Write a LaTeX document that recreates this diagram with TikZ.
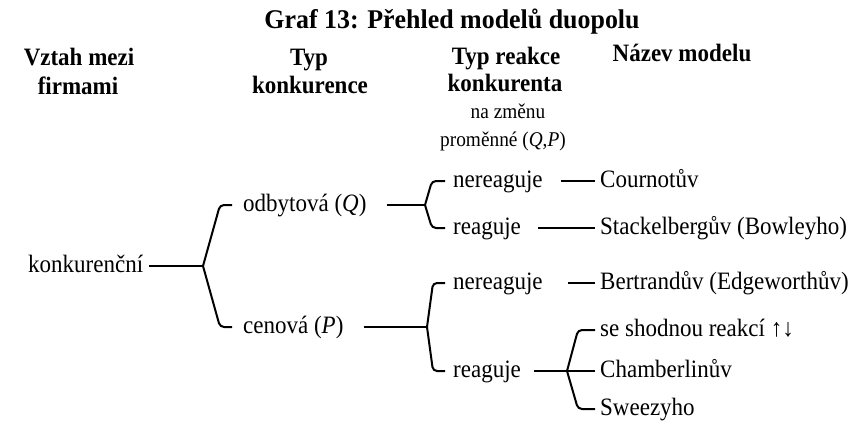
\documentclass[tikz,border=0pt]{standalone}
\usepackage{fontspec}
\setmainfont{Liberation Serif}[FakeStretch=0.92]
\newfontfamily\hdrfont{Liberation Serif}[FakeStretch=0.92]
\newfontfamily\titlefont{Liberation Serif}[FakeStretch=0.96]
\begin{document}
\begin{tikzpicture}[x=1pt,y=-1pt,
  txt/.style={font=\fontsize{25}{29}\selectfont, inner sep=0pt, text height=17pt, text depth=5pt, anchor=west},
  hdr/.style={font=\hdrfont\bfseries\fontsize{25}{29}\selectfont, inner sep=0pt, text height=17pt, text depth=5pt},
  sub/.style={font=\fontsize{21}{25}\selectfont, inner sep=0pt, text height=14pt, text depth=4pt},
  ln/.style={line width=2pt},
  br/.style={line width=2pt, rounded corners=4pt}]
\useasboundingbox (0,0) rectangle (861,423);
\fill[white] (0,0) rectangle (861,423);
% title
\node[font=\titlefont\bfseries\fontsize{27}{31}\selectfont, inner sep=0pt] (title) at (452,22) {Graf 13: Přehled modelů duopolu};
% headers
\node[hdr] (h1a) at (79,59) {Vztah mezi};
\node[hdr] (h1b) at (78,88) {firmami};
\node[hdr] (h2a) at (309,59) {Typ};
\node[hdr] (h2b) at (310,87) {konkurence};
\node[hdr] (h3a) at (506,58) {Typ reakce};
\node[hdr] (h3b) at (505,85) {konkurenta};
\node[sub] (h3c) at (508,113) {na změnu};
\node[sub] (h3d) at (503,141) {proměnné (\textit{Q},\textit{P})};
\node[hdr] (h4) at (682,55) {Název modelu};
% body texts
\node[txt] (kon) at (28,266) {konkurenční};
\node[txt] (odb) at (243,205) {odbytová (\textit{Q})};
\node[txt] (cen) at (243,327) {cenová (\textit{P})};
\node[txt] (ner1) at (453,181) {nereaguje};
\node[txt] (rea1) at (453,228) {reaguje};
\node[txt] (ner2) at (453,283) {nereaguje};
\node[txt] (rea2) at (453,371) {reaguje};
\node[txt] (cou) at (600,181) {Cournotův};
\node[txt] (sta) at (600,228) {Stackelbergův (Bowleyho)};
\node[txt] (ber) at (600,283) {Bertrandův (Edgeworthův)};
\node[txt] (shod) at (600,330) {se shodnou reakcí ↑↓};
\node[txt] (cha) at (600,371) {Chamberlinův};
\node[txt] (swe) at (600,409) {Sweezyho};
% brace vertices
\coordinate (v1) at (203,266);
\coordinate (v2) at (425,205);
\coordinate (v3) at (427,327);
\coordinate (v4) at (567,371);
% braces
\draw[br] (v1) -- ([xshift=-23pt]odb.west) -- ([xshift=-11pt]odb.west);
\draw[br] (v1) -- ([xshift=-23pt]cen.west) -- ([xshift=-11pt]cen.west);
\draw[br] (v2) -- ([xshift=-21pt]ner1.west) -- ([xshift=-8pt]ner1.west);
\draw[br] (v2) -- ([xshift=-21pt]rea1.west) -- ([xshift=-8pt]rea1.west);
\draw[br] (v3) -- ([xshift=-20pt]ner2.west) -- ([xshift=-8pt]ner2.west);
\draw[br] (v3) -- ([xshift=-20pt]rea2.west) -- ([xshift=-8pt]rea2.west);
\draw[br] (v4) -- ([xshift=-22pt]shod.west) -- ([xshift=-5pt]shod.west);
\draw[br] (v4) -- ([xshift=-22pt]swe.west) -- ([xshift=-5pt]swe.west);
% connectors
\draw[ln, shorten <=6pt] (kon.east) -- (v1);
\draw[ln, shorten <=20pt] (odb.east) -- (v2);
\draw[ln, shorten <=20pt] (cen.east) -- (v3);
\draw[ln, shorten <=18pt, shorten >=5pt] (ner1.east) -- (cou.west);
\draw[ln, shorten <=17pt, shorten >=5pt] (rea1.east) -- (sta.west);
\draw[ln, shorten <=25pt, shorten >=5pt] (ner2.east) -- (ber.west);
\draw[ln, shorten <=13pt, shorten >=5pt] (rea2.east) -- (cha.west);
\end{tikzpicture}
\end{document}
